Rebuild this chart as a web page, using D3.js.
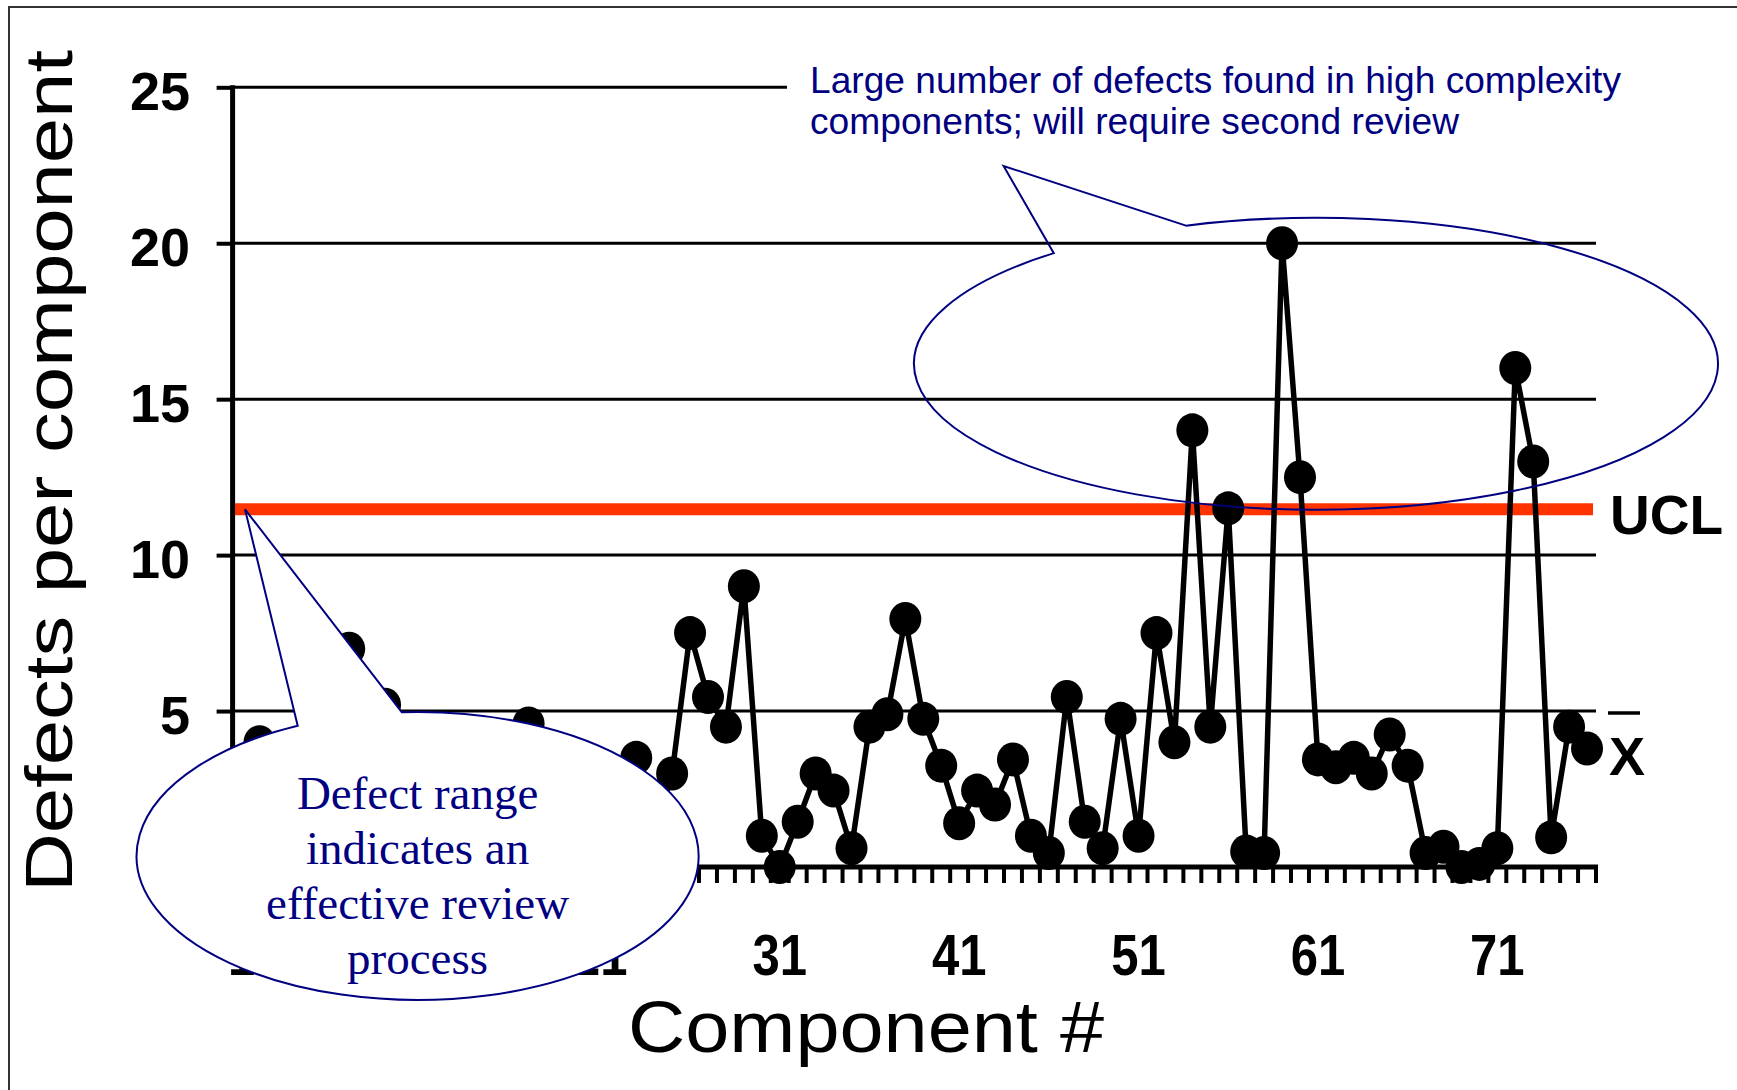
<!DOCTYPE html>
<html>
<head>
<meta charset="utf-8">
<script src="https://cdn.jsdelivr.net/npm/d3@7"></script>
<style>
  html, body { margin: 0; padding: 0; background: #ffffff; }
  svg { display: block; }
</style>
</head>
<body>
<svg id="chart" width="1737" height="1090"></svg>
<script>
// ---------------- DATA ----------------
const components = d3.range(1, 77);   // component numbers 1..76
const defects = [
  2.0, 4.0, 2.5, 1.5, 3.0, 2.0, 7.0, 4.5, 5.2, 2.0,
  1.0, 3.0, 2.5, 1.5, 3.0, 2.0, 4.6, 2.5, 1.5, 3.0,
  2.0, 1.5, 3.5, 1.0, 3.0, 7.5, 5.45, 4.5, 9.0, 1.0,
  0.0, 1.45, 3.0, 2.45, 0.6, 4.5, 4.9, 7.95, 4.75, 3.25,
  1.4, 2.45, 2.0, 3.45, 1.0, 0.45, 5.45, 1.45, 0.6, 4.75,
  1.0, 7.5, 4.0, 14.0, 4.5, 11.5, 0.5, 0.45, 20.0, 12.5,
  3.45, 3.2, 3.5, 3.0, 4.25, 3.25, 0.45, 0.65, 0.0, 0.1,
  0.6, 16.0, 13.0, 0.95, 4.5, 3.8
];
const yTickValues = [0, 5, 10, 15, 20, 25];
const xTickLabels = [1, 11, 21, 31, 41, 51, 61, 71];
const uclValue = 11.47;
const xTitle = "Component #";
const yTitle = "Defects per component";
const noteTop = ["Large number of defects found in high complexity",
                 "components; will require second review"];
const noteLeft = ["Defect range", "indicates an", "effective review", "process"];

// ---------------- LAYOUT ----------------
const W = 1737, H = 1090;
const plot = { left: 232.6, right: 1596, top: 87.3, bottom: 867 };
const navy = "#000080";

const svg = d3.select("#chart");
const data = components.map((c, i) => ({ c, v: defects[i] }));

const x = d3.scaleBand().domain(components).range([plot.left, plot.right]).padding(0);
const y = d3.scaleLinear().domain([0, 25]).range([plot.bottom, plot.top]);
const cx = c => x(c) + x.bandwidth() / 2;

// outer frame (top + left)
svg.append("path")
  .attr("d", `M9,${H} V7 H${W}`)
  .attr("fill", "none").attr("stroke", "#333").attr("stroke-width", 2);

// gridlines
svg.append("g").selectAll("line")
  .data(yTickValues.filter(t => t > 0))
  .join("line")
  .attr("x1", plot.left).attr("x2", plot.right)
  .attr("y1", d => y(d)).attr("y2", d => y(d))
  .attr("stroke", "#000").attr("stroke-width", 3);

// top annotation (white box hides the 25 gridline)
const topNote = svg.append("g");
topNote.append("rect")
  .attr("x", 787).attr("y", 40).attr("width", 850).attr("height", 112)
  .attr("fill", "#fff");
topNote.selectAll("text").data(noteTop).join("text")
  .attr("x", 810).attr("y", (d, i) => 93 + i * 41)
  .attr("font-family", "'Liberation Sans', Arial, sans-serif")
  .attr("font-size", 37).attr("fill", navy)
  .attr("textLength", (d, i) => i === 0 ? 811 : 649)
  .attr("lengthAdjust", "spacingAndGlyphs")
  .text(d => d);

// UCL line
svg.append("line")
  .attr("x1", plot.left).attr("x2", plot.right - 3)
  .attr("y1", y(uclValue)).attr("y2", y(uclValue))
  .attr("stroke", "#FF3300").attr("stroke-width", 12);

// Y axis
const yAxis = d3.axisLeft(y).tickValues(yTickValues).tickSize(16).tickFormat("");
const yAxisG = svg.append("g").attr("transform", `translate(${plot.left},0)`).call(yAxis);
yAxisG.select(".domain").remove();
yAxisG.selectAll(".tick line").attr("stroke", "#000").attr("stroke-width", 4);
svg.append("line")
  .attr("x1", plot.left).attr("x2", plot.left)
  .attr("y1", y(25) - 2).attr("y2", y(0) + 2)
  .attr("stroke", "#000").attr("stroke-width", 5);

// X axis line + boundary ticks
const boundaries = d3.range(0, components.length + 1).map(i => plot.left + i * x.bandwidth());
svg.append("g").selectAll("line").data(boundaries).join("line")
  .attr("x1", d => d).attr("x2", d => d)
  .attr("y1", y(0)).attr("y2", y(0) + 16)
  .attr("stroke", "#000").attr("stroke-width", 4);
svg.append("line")
  .attr("x1", plot.left - 2).attr("x2", plot.right + 2)
  .attr("y1", y(0)).attr("y2", y(0))
  .attr("stroke", "#000").attr("stroke-width", 5);

// Y tick labels
svg.append("g").selectAll("text").data(yTickValues.filter(t => t > 0)).join("text")
  .attr("x", 190).attr("y", d => y(d) + 23)
  .attr("text-anchor", "end")
  .attr("font-family", "'Liberation Sans', Arial, sans-serif")
  .attr("font-weight", "bold").attr("font-size", 54)
  .attr("fill", "#000")
  .text(d => d);

// X tick labels
svg.append("g").selectAll("text").data(xTickLabels).join("text")
  .attr("transform", d => `translate(${cx(d)},975) scale(0.86,1)`)
  .attr("text-anchor", "middle")
  .attr("font-family", "'Liberation Sans', Arial, sans-serif")
  .attr("font-weight", "bold").attr("font-size", 57)
  .attr("fill", "#000")
  .text(d => d);

// data line
svg.append("path").datum(data)
  .attr("d", d3.line().x(d => cx(d.c)).y(d => y(d.v)))
  .attr("fill", "none").attr("stroke", "#000")
  .attr("stroke-width", 5.5).attr("stroke-linejoin", "round");

// markers
svg.append("g").selectAll("ellipse").data(data).join("ellipse")
  .attr("cx", d => cx(d.c)).attr("cy", d => y(d.v))
  .attr("rx", 16).attr("ry", 17)
  .attr("fill", "#000");

// ellipse helper
function topY(e, px) {
  const t = (px - e.cx) / e.rx;
  return e.cy - e.ry * Math.sqrt(1 - t * t);
}
function calloutPath(e, tip, bx1, bx2) {
  const p1 = [bx1, topY(e, bx1)], p2 = [bx2, topY(e, bx2)];
  return `M${p2[0]},${p2[1]} L${tip[0]},${tip[1]} L${p1[0]},${p1[1]} ` +
         `A${e.rx},${e.ry} 0 1 0 ${p2[0]},${p2[1]} Z`;
}

// top-right callout (outline only)
const e1 = { cx: 1316, cy: 363.8, rx: 402, ry: 146 };
svg.append("path")
  .attr("d", calloutPath(e1, [1003.6, 166], 1053.8, 1186))
  .attr("fill", "none").attr("stroke", navy).attr("stroke-width", 2);

// left callout (white filled)
const e2 = { cx: 417.6, cy: 856, rx: 281, ry: 144 };
svg.append("path")
  .attr("d", calloutPath(e2, [245, y(uclValue)], 297.7, 401.7))
  .attr("fill", "#fff").attr("stroke", navy).attr("stroke-width", 2);
svg.append("g").selectAll("text").data(noteLeft).join("text")
  .attr("x", 417.6).attr("y", (d, i) => 809 + i * 55)
  .attr("text-anchor", "middle")
  .attr("font-family", "'Liberation Serif', 'Times New Roman', serif")
  .attr("font-size", 47).attr("fill", navy)
  .text(d => d);

// UCL label
svg.append("text")
  .attr("x", 1610).attr("y", 534)
  .attr("font-family", "'Liberation Sans', Arial, sans-serif")
  .attr("font-weight", "bold").attr("font-size", 55)
  .attr("fill", "#000").text("UCL");

// X-bar label
svg.append("text")
  .attr("x", 1609).attr("y", 775)
  .attr("font-family", "'Liberation Sans', Arial, sans-serif")
  .attr("font-weight", "bold").attr("font-size", 54)
  .attr("fill", "#000").text("X");
svg.append("line")
  .attr("x1", 1608).attr("x2", 1640).attr("y1", 713).attr("y2", 713)
  .attr("stroke", "#000").attr("stroke-width", 3.5);

// axis titles
svg.append("text")
  .attr("x", 866).attr("y", 1052)
  .attr("text-anchor", "middle")
  .attr("font-family", "'Liberation Sans', Arial, sans-serif")
  .attr("font-size", 72).attr("fill", "#000")
  .attr("textLength", 476).attr("lengthAdjust", "spacingAndGlyphs")
  .text(xTitle);
svg.append("text")
  .attr("transform", "translate(72,471) rotate(-90)")
  .attr("text-anchor", "middle")
  .attr("font-family", "'Liberation Sans', Arial, sans-serif")
  .attr("font-size", 66).attr("fill", "#000")
  .attr("textLength", 842).attr("lengthAdjust", "spacingAndGlyphs")
  .text(yTitle);
</script>
</body>
</html>
